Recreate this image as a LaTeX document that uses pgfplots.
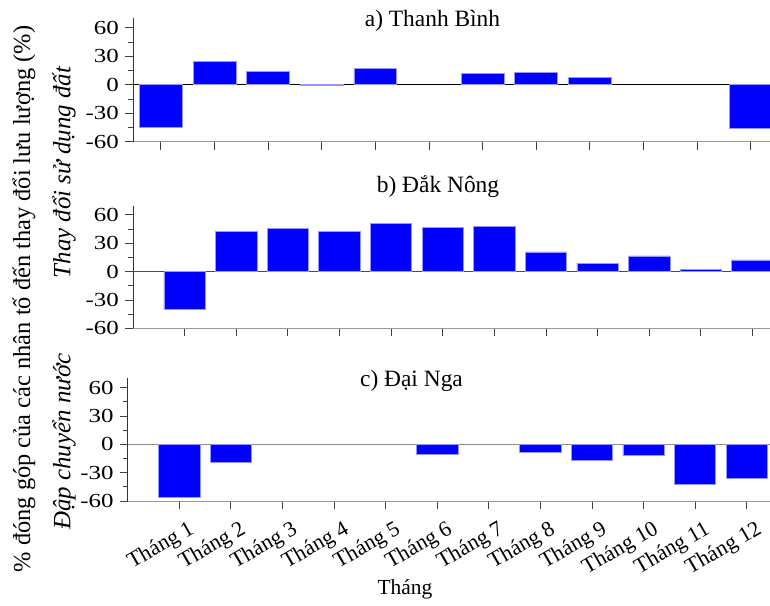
\documentclass[border=0pt]{standalone}
\usepackage{fontspec}
\setmainfont{Liberation Serif}
\newfontfamily\tickfont{Liberation Serif}[FakeStretch=1.25]
\usepackage{pgfplots}
\pgfplotsset{compat=1.18}
\definecolor{barblue}{RGB}{0,0,255}
\definecolor{baredge}{RGB}{150,150,255}
\pgfplotsset{
  panel/.style={
    scale only axis,
    axis lines*=left,
    x axis line style={black!40, line width=1pt},
    y axis line style={black!80, line width=1pt},
    ymin=-60, ymax=70,
    ytick={-60,-30,0,30,60},
    yticklabels={-60,-30,0,30,60},
    minor ytick={-45,-15,15,45},
    xtick={1,2,3,4,5,6,7,8,9,10,11,12},
    tick align=outside,
    major tick length=8bp,
    minor tick length=5bp,
    every tick/.style={black!75, line width=0.9pt},
    yticklabel style={font=\tickfont\fontsize{20}{20}\selectfont, inner xsep=6bp},
    clip=false,
  },
  bars/.style={ybar, bar width=0.8, fill=barblue, draw=baredge, line width=0.7pt},
}
\begin{document}
\begin{tikzpicture}
\useasboundingbox (0,0) rectangle (770bp,-606bp);
% panel a
\begin{axis}[panel, at={(133bp,-141.7bp)}, anchor=south west,
  width=637bp, height=123.5bp, xmin=0.48, xmax=12.36, xticklabels={}]
\addplot[black, line width=1.1pt] coordinates {(0.48,0) (12.36,0)};
\addplot[bars] coordinates {(1,-44.6) (2,24.8) (3,14.3) (4,-1.0) (5,17.5) (7,11.6) (8,13.3) (9,7.4) (12,-45.7)};
\end{axis}
% panel b
\begin{axis}[panel, at={(133bp,-328.3bp)}, anchor=south west,
  width=637bp, height=122.8bp, xmin=0, xmax=12.34, xticklabels={}]
\addplot[black!70, line width=1.1pt] coordinates {(0,0) (12.34,0)};
\addplot[bars] coordinates {(1,-39.8) (2,42.8) (3,45.9) (4,42.8) (5,51.2) (6,46.6) (7,48.0) (8,20.8) (9,8.9) (10,16.6) (11,2.5) (12,12.4)};
\end{axis}
% panel c
\begin{axis}[panel, at={(127.7bp,-501bp)}, anchor=south west,
  width=642.3bp, height=122.8bp, xmin=0, xmax=12.45,
  xticklabels={Tháng 1,Tháng 2,Tháng 3,Tháng 4,Tháng 5,Tháng 6,Tháng 7,Tháng 8,Tháng 9,Tháng 10,Tháng 11,Tháng 12},
  xticklabel style={rotate=30, anchor=north east, font=\fontsize{22}{22}\selectfont, inner sep=0pt, yshift=-13bp, xshift=2bp}]
\addplot[black!45, line width=1.1pt] coordinates {(0,0) (12.45,0)};
\addplot[bars] coordinates {(1,-55.8) (2,-19.0) (6,-10.3) (8,-8.9) (9,-16.6) (10,-11.6) (11,-42.3) (12,-36.4)};
\end{axis}
% titles
\node[anchor=base, font=\fontsize{23.5}{24}\selectfont] at (432.5bp,-26bp) {a) Thanh Bình};
\node[anchor=base, font=\fontsize{23.5}{24}\selectfont] at (438bp,-192bp) {b) Đắk Nông};
\node[anchor=base, font=\fontsize{23.5}{24}\selectfont] at (411.5bp,-386.7bp) {c) Đại Nga};
% axis labels
\node[anchor=base, font=\fontsize{21.5}{22}\selectfont] at (405bp,-594bp) {Tháng};
\node[rotate=90, font=\fontsize{24.5}{25}\selectfont] at (24bp,-299bp) {\% đóng góp của các nhân tố đến thay đổi lưu lượng (\%)};
\node[rotate=90, font=\itshape\fontsize{25}{25}\selectfont] at (64bp,-172.5bp) {Thay đổi sử dụng đất};
\node[rotate=90, font=\itshape\fontsize{25}{25}\selectfont] at (64bp,-441.5bp) {Đập chuyển nước};
\end{tikzpicture}
\end{document}
